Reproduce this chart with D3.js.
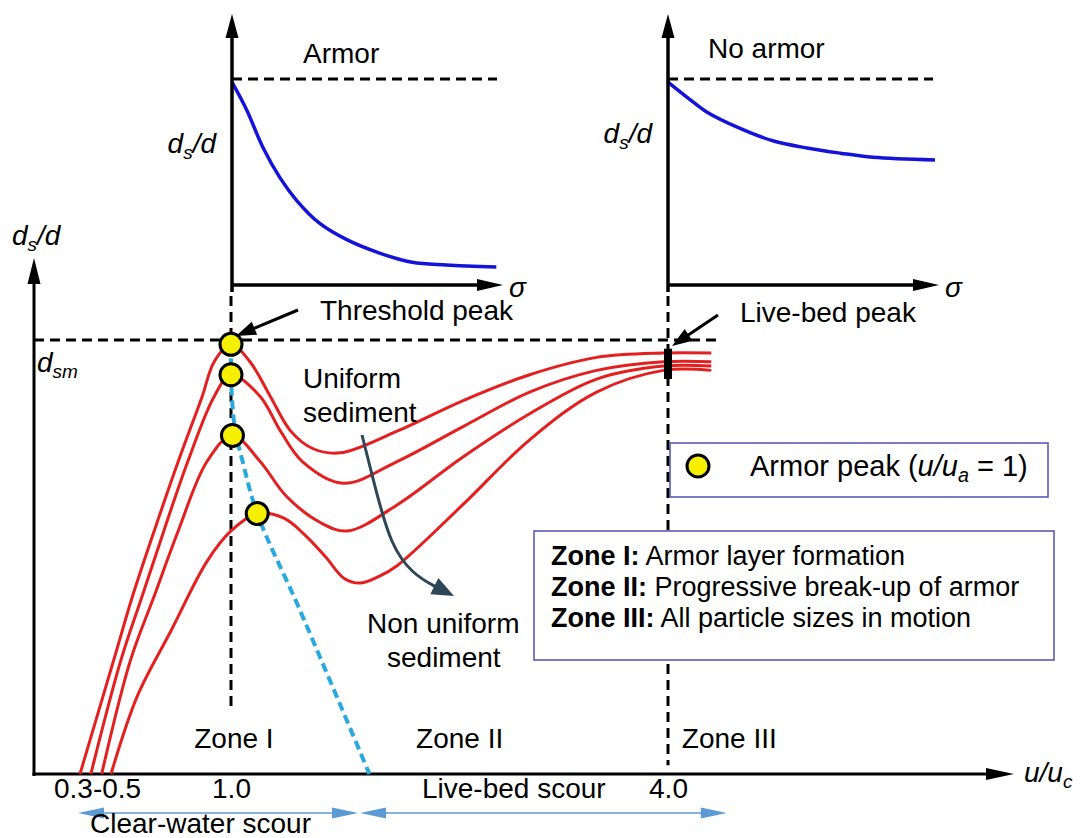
<!DOCTYPE html>
<html>
<head>
<meta charset="utf-8">
<script src="https://cdn.jsdelivr.net/npm/d3@7"></script>
<style>
  html, body { margin: 0; padding: 0; background: #fff; }
  svg text { font-family: "Liberation Sans", Arial, Helvetica, sans-serif; }
</style>
</head>
<body>
<svg id="chart" width="1088" height="838"></svg>
<script>
// ---- Scour depth curves: u/u_c against d_s/d (relative to d_sm) ----
const curve1U = [0.30, 0.51, 0.59, 0.68, 0.78, 0.88, 0.93, 1.00, 1.13, 1.27, 1.41, 1.56, 1.75, 2.14, 2.59, 3.05, 3.51, 3.97, 4.25];
const curve1D = [0.00, 0.26, 0.41, 0.56, 0.72, 0.87, 0.95, 0.99, 0.95, 0.87, 0.79, 0.75, 0.74, 0.79, 0.86, 0.92, 0.96, 0.97, 0.97];
const curve2U = [0.37, 0.54, 0.63, 0.72, 0.82, 0.93, 1.00, 1.20, 1.34, 1.49, 1.77, 2.14, 2.59, 3.05, 3.51, 3.97, 4.25];
const curve2D = [0.00, 0.26, 0.41, 0.56, 0.72, 0.87, 0.92, 0.87, 0.79, 0.72, 0.67, 0.72, 0.80, 0.88, 0.93, 0.95, 0.95];
const curve3U = [0.44, 0.58, 0.68, 0.78, 0.90, 1.01, 1.20, 1.38, 1.61, 1.80, 2.14, 2.59, 3.05, 3.51, 3.97, 4.25];
const curve3D = [0.00, 0.26, 0.41, 0.56, 0.72, 0.78, 0.72, 0.64, 0.58, 0.56, 0.62, 0.73, 0.83, 0.91, 0.94, 0.94];
const curve4U = [0.50, 0.61, 0.75, 0.90, 1.00, 1.18, 1.36, 1.51, 1.65, 1.78, 1.89, 2.02, 2.14, 2.59, 3.05, 3.51, 3.97, 4.25];
const curve4D = [0.00, 0.18, 0.33, 0.49, 0.56, 0.60, 0.59, 0.55, 0.50, 0.45, 0.44, 0.456, 0.48, 0.62, 0.77, 0.88, 0.93, 0.93];

// armor peaks (u/u_a = 1) and the line joining them down to the axis
const armorPeakU = [1.00, 1.00, 1.01, 1.18];
const armorPeakD = [0.99, 0.92, 0.78, 0.60];
const armorTrendU = [1.00, 1.00, 1.01, 1.03, 1.08, 1.18, 1.47, 1.95];
const armorTrendD = [0.99, 0.92, 0.85, 0.79, 0.72, 0.60, 0.38, 0.00];

// live-bed peak band at u/u_c = 4
const liveBedU = 4.0;
const liveBedD = [0.91, 0.98];

// insets: d_s/d against sigma
const sigmaArmor = [1.00, 1.22, 1.46, 1.72, 1.97, 2.31, 2.72, 3.21, 3.70, 4.21, 4.96];
const dsArmor    = [0.985, 0.85, 0.67, 0.52, 0.41, 0.30, 0.22, 0.155, 0.11, 0.097, 0.087];
const sigmaNoArmor = [1.00, 1.33, 1.58, 2.08, 2.57, 3.08, 3.58, 4.07, 5.00];
const dsNoArmor    = [0.985, 0.90, 0.84, 0.76, 0.70, 0.665, 0.64, 0.62, 0.607];

// axis ticks and annotations
const tickU = [0.41, 1.0, 4.0];
const tickLabels = ["0.3-0.5", "1.0", "4.0"];
const zoneNames = ["Zone I", "Zone II", "Zone III"];
const zoneU = [1.02, 2.57, 4.08];
const zoneNotes = ["Armor layer formation", "Progressive break-up of armor", "All particle sizes in motion"];
const regimeNames = ["Clear-water scour", "Live-bed scour"];
const regimeFromU = [0.287, 1.886];
const regimeToU = [1.872, 4.34];

// ---- scales ----
const x = d3.scaleLinear().domain([0, 0.3, 0.5, 1.0, 4.0, 6.0]).range([34, 80, 111, 231, 668, 1014]);
const y = d3.scaleLinear().domain([0, 1]).range([774, 340]);
const sxA = d3.scaleLinear().domain([1, 5]).range([232, 499]);
const sxN = d3.scaleLinear().domain([1, 5]).range([668, 935]);
const sy = d3.scaleLinear().domain([0, 1]).range([285, 79]);

const FS = 28;
const RED = "#e3201f", INSET_BLUE = "#1414d8", TREND_BLUE = "#2aa9df";
const svg = d3.select("#chart");

function head(g, tip, from, len, half, color) {
  const dx = tip[0] - from[0], dy = tip[1] - from[1];
  const L = Math.hypot(dx, dy), ux = dx / L, uy = dy / L;
  const bx = tip[0] - ux * len, by = tip[1] - uy * len;
  g.append("path")
    .attr("d", `M${tip[0]},${tip[1]}L${bx - uy * half},${by + ux * half}L${bx + uy * half},${by - ux * half}Z`)
    .attr("fill", color);
}
function arrowLine(g, from, tip, len, half, color, w) {
  const dx = tip[0] - from[0], dy = tip[1] - from[1];
  const L = Math.hypot(dx, dy);
  const ex = tip[0] - dx / L * len * 0.6, ey = tip[1] - dy / L * len * 0.6;
  g.append("line").attr("x1", from[0]).attr("y1", from[1]).attr("x2", ex).attr("y2", ey)
    .attr("stroke", color).attr("stroke-width", w);
  head(g, tip, from, len, half, color);
}
function rich(g, px, py, parts, size, anchor) {
  const t = g.append("text").attr("x", px).attr("y", py).attr("font-size", size)
    .attr("text-anchor", anchor || "start").attr("fill", "#000");
  let low = false;
  parts.forEach(p => {
    const s = t.append("tspan").text(p.t);
    if (p.i) s.attr("font-style", "italic");
    if (p.b) s.attr("font-weight", "bold");
    if (p.sub) {
      s.attr("font-size", size * 0.68);
      if (!low) { s.attr("dy", size * 0.22); low = true; }
    } else if (low) { s.attr("dy", -size * 0.22); low = false; }
  });
  return t;
}
const dsd = [{t: "d", i: 1}, {t: "s", i: 1, sub: 1}, {t: "/d", i: 1}];

// ---- insets ----
function inset(sx, sig, ds, title, titleX, titleY, labelY) {
  const g = svg.append("g");
  const x0 = sx.range()[0], x1 = sx.range()[1];
  g.append("line").attr("x1", x0).attr("x2", x1 - 2).attr("y1", sy(1)).attr("y2", sy(1))
    .attr("stroke", "#000").attr("stroke-width", 3).attr("stroke-dasharray", "10,6");
  g.append("path")
    .attr("d", d3.line().x((d, i) => sx(sig[i])).y(d => sy(d)).curve(d3.curveCatmullRom)(ds))
    .attr("fill", "none").attr("stroke", INSET_BLUE).attr("stroke-width", 3.5);
  arrowLine(g, [x0, sy(0) + 7], [x0, 14], 24, 6.5, "#000", 3.5);
  arrowLine(g, [x0 - 1, sy(0)], [x1 + 4, sy(0)], 26, 6, "#000", 3.5);
  rich(g, x1 + 10, sy(0) + 12, [{t: "σ", i: 1}], FS);
  g.append("text").attr("x", titleX).attr("y", titleY).attr("font-size", FS).text(title);
  rich(g, x0 - 16, labelY, dsd, FS, "end");
}
inset(sxA, sigmaArmor, dsArmor, "Armor", 303, 63, 153);
inset(sxN, sigmaNoArmor, dsNoArmor, "No armor", 708, 58, 143);

// ---- main chart ----
const main = svg.append("g");
function dashed(x1, y1, x2, y2) {
  main.append("line").attr("x1", x1).attr("y1", y1).attr("x2", x2).attr("y2", y2)
    .attr("stroke", "#000").attr("stroke-width", 3).attr("stroke-dasharray", "10,6");
}
dashed(x(0), y(1), x(4.28), y(1));
dashed(x(1), 296, x(1), y(0.147));
dashed(x(4), 296, x(4), y(0.02));

// axes
arrowLine(main, [x(0), y(0) + 2], [x(0), 258], 26, 6.5, "#000", 3);
arrowLine(main, [x(0) - 1.5, y(0)], [x(6), y(0)], 28, 6, "#000", 3);
const xAxis = d3.axisBottom(x).tickValues(tickU).tickSize(0).tickPadding(4)
  .tickFormat((d, i) => tickLabels[i]);
main.append("g").attr("transform", `translate(0,${y(0)})`).call(xAxis)
  .call(g => g.select(".domain").remove())
  .selectAll("text").attr("font-size", FS).attr("font-family", null).attr("fill", "#000").attr("dy", "0.71em");
rich(main, x(6) + 10, y(0) + 8, [{t: "u/u", i: 1}, {t: "c", i: 1, sub: 1}], FS);
rich(main, 12, 245, dsd, FS);
rich(main, 37, 372, [{t: "d", i: 1}, {t: "sm", i: 1, sub: 1}], FS);

// scour curves
const line = d3.line().curve(d3.curveCatmullRom.alpha(0.5));
[[curve1U, curve1D], [curve2U, curve2D], [curve3U, curve3D], [curve4U, curve4D]].forEach(([u, d]) => {
  main.append("path").attr("d", line(u.map((v, i) => [x(v), y(d[i])])))
    .attr("fill", "none").attr("stroke", RED).attr("stroke-width", 3);
});

// armor trend line
main.append("path").attr("d", d3.line().curve(d3.curveCatmullRom)(armorTrendU.map((v, i) => [x(v), y(armorTrendD[i])])))
  .attr("fill", "none").attr("stroke", TREND_BLUE).attr("stroke-width", 4).attr("stroke-dasharray", "9,5");

// live-bed peak band
main.append("rect").attr("x", x(liveBedU) - 4).attr("width", 8)
  .attr("y", y(liveBedD[1])).attr("height", y(liveBedD[0]) - y(liveBedD[1])).attr("fill", "#000");

// armor peak markers
main.selectAll("circle.peak").data(armorPeakU).join("circle").attr("class", "peak")
  .attr("cx", d => x(d)).attr("cy", (d, i) => y(armorPeakD[i])).attr("r", 11)
  .attr("fill", "#f6f000").attr("stroke", "#000").attr("stroke-width", 3);

// peak callouts
arrowLine(main, [298, 310], [236, 336], 20, 7, "#000", 3);
main.append("text").attr("x", 320).attr("y", 320).attr("font-size", FS).text("Threshold peak");
arrowLine(main, [718, 315], [672, 346], 20, 7, "#000", 3);
main.append("text").attr("x", 740).attr("y", 322).attr("font-size", FS).text("Live-bed peak");

// uniform -> non uniform sediment
const bend = [[362, 435], [377, 495], [391, 545], [412, 574], [438, 588]];
main.append("path").attr("d", d3.line().curve(d3.curveBasis)(bend))
  .attr("fill", "none").attr("stroke", "#2d4658").attr("stroke-width", 3);
head(main, [454, 596], [436, 587], 22, 9, "#2d4658");
main.append("text").attr("x", 303).attr("y", 388).attr("font-size", FS).text("Uniform");
main.append("text").attr("x", 303).attr("y", 422).attr("font-size", FS).text("sediment");
main.append("text").attr("x", 367).attr("y", 633).attr("font-size", FS).text("Non uniform");
main.append("text").attr("x", 387).attr("y", 667).attr("font-size", FS).text("sediment");

// zone labels
zoneNames.forEach((z, i) => {
  main.append("text").attr("x", x(zoneU[i])).attr("y", 748).attr("font-size", FS)
    .attr("text-anchor", i < 2 ? "middle" : "start").text(z);
});

// scour regimes
const RB = "#5b9bd5";
regimeNames.forEach((r, i) => {
  const a = x(regimeFromU[i]), b = x(regimeToU[i]), yy = 813;
  main.append("line").attr("x1", a + 10).attr("x2", b - 10).attr("y1", yy).attr("y2", yy)
    .attr("stroke", RB).attr("stroke-width", 1.3);
  head(main, [a, yy], [b, yy], 26, 5.5, RB);
  head(main, [b, yy], [a, yy], 26, 5.5, RB);
});
main.append("text").attr("x", 90).attr("y", 833).attr("font-size", FS).text(regimeNames[0]);
main.append("text").attr("x", 422).attr("y", 798).attr("font-size", FS).text(regimeNames[1]);

// legend: armor peak
const lg = svg.append("g");
lg.append("rect").attr("x", 670).attr("y", 443).attr("width", 378).attr("height", 54)
  .attr("fill", "#fff").attr("stroke", "#5050b0").attr("stroke-width", 1.5);
lg.append("circle").attr("cx", 698).attr("cy", 466).attr("r", 11)
  .attr("fill", "#f6f000").attr("stroke", "#000").attr("stroke-width", 3);
rich(lg, 750, 476, [{t: "Armor peak ("}, {t: "u/u", i: 1}, {t: "a", i: 1, sub: 1}, {t: " = 1)"}], 29);

// legend: zones
const zg = svg.append("g");
zg.append("rect").attr("x", 534).attr("y", 531).attr("width", 520).attr("height", 129)
  .attr("fill", "#fff").attr("stroke", "#5050b0").attr("stroke-width", 1.5);
zoneNames.forEach((z, i) => {
  rich(zg, 551, 565 + i * 31, [{t: z + ":", b: 1}, {t: " " + zoneNotes[i]}], 27);
});
</script>
</body>
</html>
